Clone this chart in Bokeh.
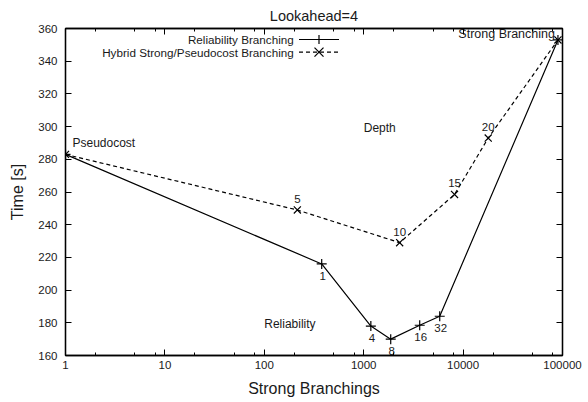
from bokeh.plotting import figure
from bokeh.models import (ColumnDataSource, FixedTicker, LogAxis,
                          LinearAxis, NumeralTickFormatter, Label, Arrow, Range1d)
from bokeh.core.properties import value
from bokeh.embed import file_html
from bokeh.resources import INLINE

# ---------------- data ----------------
title_text = "Lookahead=4"
x_label = "Strong Branchings"
y_label = "Time [s]"
series_names = ["Reliability Branching", "Hybrid Strong/Pseudocost Branching"]

rel_x = [1, 378, 1180, 1870, 3660, 5820, 90000]
rel_y = [283, 216, 178, 170, 178.5, 184, 353]
rel_labels = ["", "1", "4", "8", "16", "32", ""]

hyb_x = [1, 215, 2300, 8200, 17900, 90000]
hyb_y = [283, 249, 229, 258.5, 293, 353]
hyb_labels = ["", "5", "10", "15", "20", ""]

x_major = [1, 10, 100, 1000, 10000, 100000]
x_minor = [m * 10 ** k for k in range(5) for m in (2, 5, 8)]
y_ticks = list(range(160, 361, 20))

end_texts = ["Pseudocost", "Strong Branching"]
region_texts = ["Depth", "Reliability"]
region_x = [1450, 181]
region_y = [299, 179.3]

# ---------------- style ----------------
FONT = value("Liberation Sans")
INK = "#1a1a1a"

p = figure(width=588, height=402, x_axis_type="log",
           x_range=Range1d(1, 100000), y_range=Range1d(160, 360),
           output_backend="svg", toolbar_location=None,
           min_border_left=65, min_border_right=26,
           min_border_top=27, min_border_bottom=47)
p.background_fill_color = "white"
p.border_fill_color = "white"
p.grid.visible = False
p.outline_line_color = "black"
p.outline_line_width = 1.3

p.title.text = title_text
p.title.align = "center"
p.title.text_font = "Liberation Sans"
p.title.text_font_size = "14.5px"
p.title.text_font_style = "normal"
p.title.text_color = INK


def style_axis(ax, show_labels=True):
    ax.axis_line_color = "black"
    ax.axis_line_width = 1.3
    ax.major_tick_line_color = "black"
    ax.minor_tick_line_color = "black"
    ax.major_tick_in = 6
    ax.major_tick_out = 0
    ax.minor_tick_in = 3
    ax.minor_tick_out = 0
    ax.major_label_text_font = "Liberation Sans"
    ax.major_label_text_font_size = "11.5px" if show_labels else "1px"
    ax.major_label_text_color = INK if show_labels else None
    ax.axis_label_text_font = "Liberation Sans"
    ax.axis_label_text_font_size = "16px"
    ax.axis_label_text_font_style = "normal"
    ax.axis_label_text_color = INK


xt = FixedTicker(ticks=x_major, minor_ticks=x_minor)
yt = FixedTicker(ticks=y_ticks)

xa = p.xaxis[0]
xa.ticker = xt
xa.formatter = NumeralTickFormatter(format="0")
xa.axis_label = x_label
style_axis(xa)
xa.major_label_standoff = 5
xa.axis_label_standoff = 8

ya = p.yaxis[0]
ya.ticker = yt
ya.axis_label = y_label
style_axis(ya)
ya.major_label_standoff = 8
ya.axis_label_standoff = 9

top = LogAxis(ticker=xt)
style_axis(top, False)
top.major_label_standoff = 0
p.add_layout(top, "above")

right = LinearAxis(ticker=yt)
style_axis(right, False)
right.major_label_standoff = 0
p.add_layout(right, "right")

# ---------------- series ----------------
rel = ColumnDataSource(dict(x=rel_x, y=rel_y, t=rel_labels))
hyb = ColumnDataSource(dict(x=hyb_x, y=hyb_y, t=hyb_labels))

p.line("x", "y", source=hyb, line_color="black", line_width=1.2, line_dash="4 3")
p.line("x", "y", source=rel, line_color="black", line_width=1.2)
p.scatter("x", "y", source=rel, marker="cross", size=10, line_color="black", line_width=1.2)
p.scatter("x", "y", source=hyb, marker="x", size=10, line_color="black", line_width=1.2)

p.text("x", "y", text="t", source=rel, x_offset=1, y_offset=12,
       text_align="center", text_baseline="middle", text_font=FONT,
       text_font_size="11.5px", text_color=INK)
p.text("x", "y", text="t", source=hyb, x_offset=0, y_offset=-11,
       text_align="center", text_baseline="middle", text_font=FONT,
       text_font_size="11.5px", text_color=INK)

# end-point annotations
p.text(x=[rel_x[0]], y=[rel_y[0]], text=[end_texts[0]], x_offset=7, y_offset=-11,
       text_align="left", text_baseline="middle", text_font=FONT,
       text_font_size="12px", text_color=INK)
p.text(x=[rel_x[-1]], y=[rel_y[-1]], text=[end_texts[1]], x_offset=-3, y_offset=-6,
       text_align="right", text_baseline="middle", text_font=FONT,
       text_font_size="12.5px", text_color=INK)

# region annotations
p.text(x=region_x, y=region_y, text=region_texts,
       text_align="center", text_baseline="middle", text_font=FONT,
       text_font_size="12px", text_color=INK)

# ---------------- legend (gnuplot style: text, then sample) ----------------
rows = [316.0, 303.4]
text_right = 228.3
samp_l, samp_r, samp_c = 233.5, 273.5, 253.5
for i, name in enumerate(series_names):
    yy = rows[i]
    p.add_layout(Label(x=text_right, y=yy, x_units="screen", y_units="screen",
                       text=name, text_align="right", text_baseline="middle",
                       text_font="Liberation Sans", text_font_size="11.7px",
                       text_color=INK))
    p.add_layout(Arrow(end=None, x_start=samp_l, y_start=yy, x_end=samp_r, y_end=yy,
                       start_units="screen", end_units="screen",
                       line_color="black", line_width=1.2,
                       line_dash="solid" if i == 0 else "4 3"))
    h = 4.5
    if i == 0:
        segs = [(samp_c - h, yy, samp_c + h, yy), (samp_c, yy - h, samp_c, yy + h)]
    else:
        segs = [(samp_c - h, yy - h, samp_c + h, yy + h), (samp_c - h, yy + h, samp_c + h, yy - h)]
    for (a, b, c, d) in segs:
        p.add_layout(Arrow(end=None, x_start=a, y_start=b, x_end=c, y_end=d,
                           start_units="screen", end_units="screen",
                           line_color="black", line_width=1.2))

open("out.html", "w").write(file_html(p, INLINE))
